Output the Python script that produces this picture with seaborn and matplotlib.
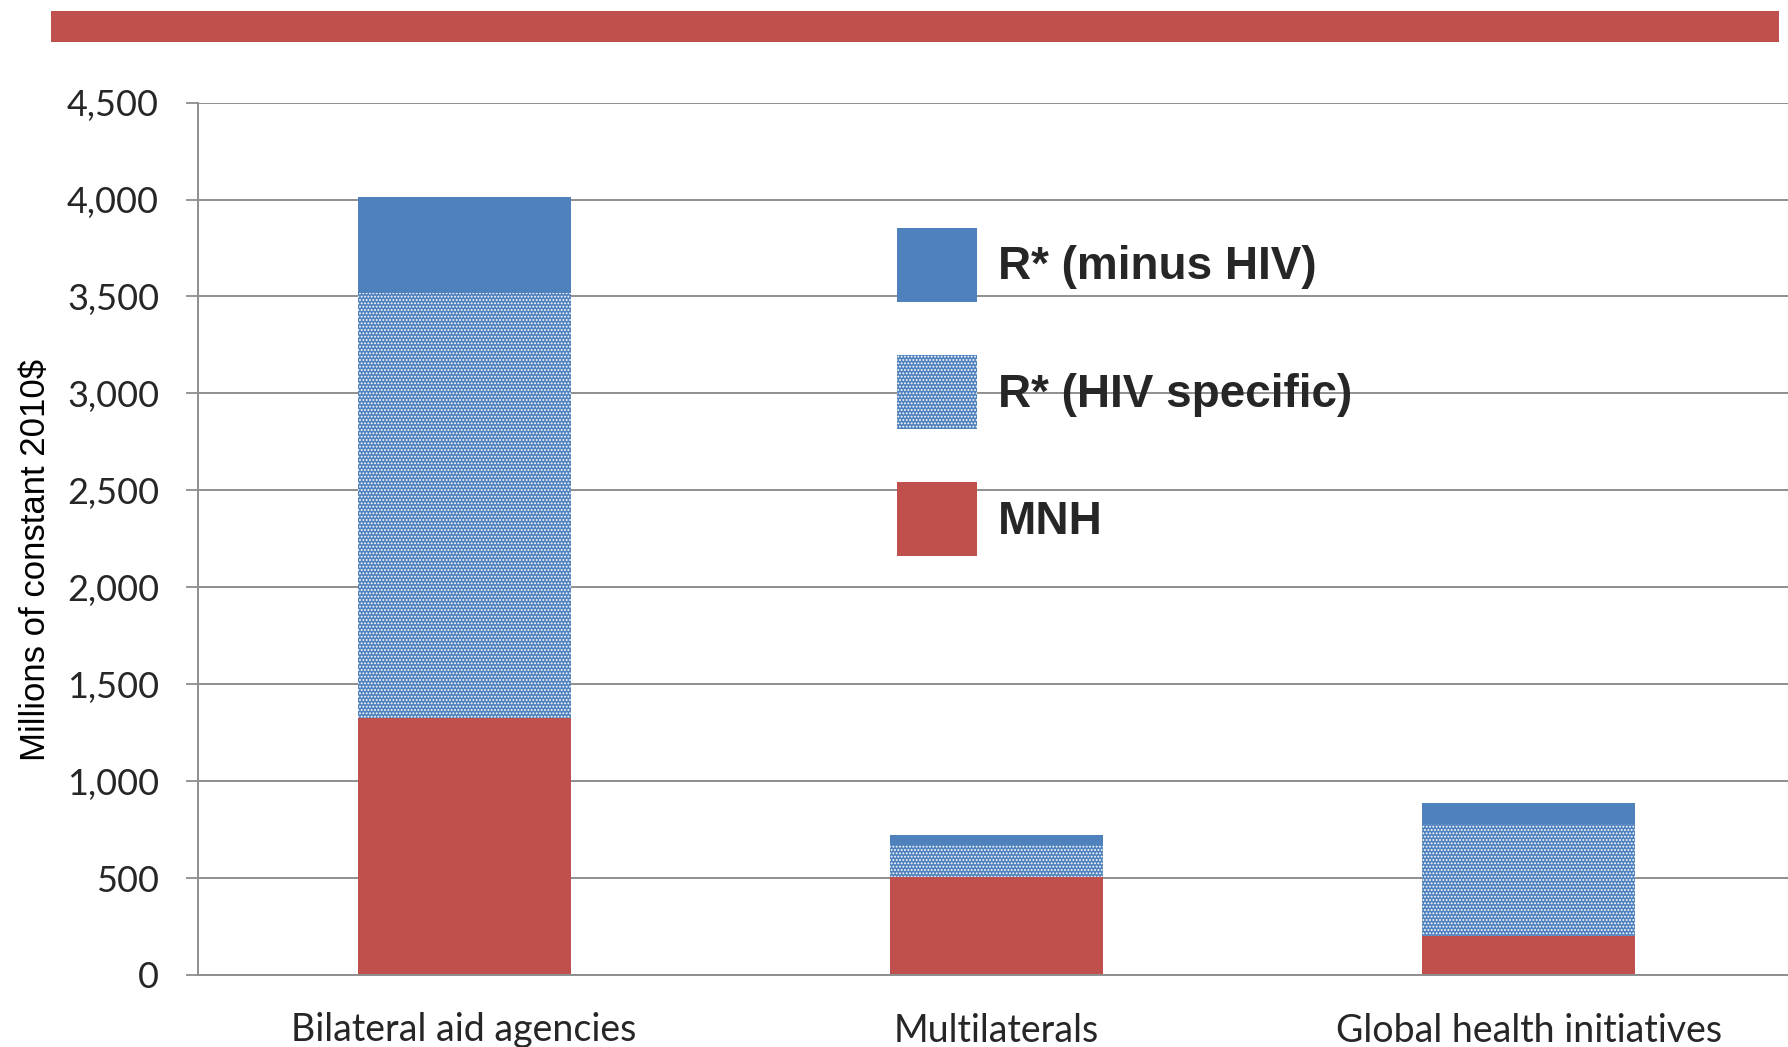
import numpy as np
import pandas as pd
import seaborn as sns
import matplotlib.pyplot as plt
from matplotlib.patches import Patch, Rectangle

# Step 1: data (millions of constant 2010$)
categories = ["Bilateral aid agencies", "Multilaterals", "Global health initiatives"]
mnh = [1325, 505, 202]
hiv_specific = [2195, 163, 575]
minus_hiv = [492, 56, 112]
series_labels = ["R* (minus HIV)", "R* (HIV specific)", "MNH"]
yticks = [0, 500, 1000, 1500, 2000, 2500, 3000, 3500, 4000, 4500]

blue = "#4F81BD"
red = "#C0504D"
grid_col = "#8E8E8E"

sns.set_theme(style="white")
plt.rcParams["hatch.linewidth"] = 0.9
tick_font = ["Lato", "DejaVu Sans"]
sans = ["Liberation Sans", "DejaVu Sans"]

# stacked bars drawn as cumulative totals, tallest first
df = pd.DataFrame({"cat": categories, "mnh": mnh, "hiv": hiv_specific, "rest": minus_hiv})
df["hiv_top"] = df["mnh"] + df["hiv"]
df["total"] = df["hiv_top"] + df["rest"]

W, H = 1788, 1047
fig = plt.figure(figsize=(W / 100, H / 100), dpi=100)
ax = fig.add_axes([198 / W, (H - 975) / H, 1597 / W, (975 - 102.6) / H])

sns.barplot(data=df, x="cat", y="total", color=blue, saturation=1, width=0.4,
            errorbar=None, linewidth=0, ax=ax)
sns.barplot(data=df, x="cat", y="hiv_top", color=blue, saturation=1, width=0.4,
            errorbar=None, linewidth=0, edgecolor="white", hatch=".....", ax=ax)
sns.barplot(data=df, x="cat", y="mnh", color=red, saturation=1, width=0.4,
            errorbar=None, linewidth=0, ax=ax)

# Step 2: axes styling
ax.set_xlim(-0.5, 2.5)
ax.set_ylim(0, 4500)
ax.set_yticks(yticks)
ax.set_yticklabels([f"{v:,}" for v in yticks], fontfamily=tick_font, fontsize=26)
ax.yaxis.grid(True, color=grid_col, linewidth=1.4)
ax.set_axisbelow(True)

ax.set_xticks([-0.5, 0.5, 1.5, 2.5])
ax.set_xticklabels([])
ax.set_xticks([0, 1, 2], minor=True)
ax.set_xticklabels(categories, minor=True, fontfamily=tick_font, fontsize=27)
ax.tick_params(axis="x", which="major", length=9, width=1.3, color=grid_col, direction="out")
ax.tick_params(axis="x", which="minor", length=0, pad=27)
ax.tick_params(axis="y", length=9, width=1.3, color=grid_col, direction="out", pad=19, left=True)

for s in ["top", "right"]:
    ax.spines[s].set_visible(False)
for s in ["left", "bottom"]:
    ax.spines[s].set_color(grid_col)
    ax.spines[s].set_linewidth(1.4)

ax.set_xlabel("")
ax.set_ylabel("Millions of constant 2010$", fontfamily=sans, fontsize=25, color="black")
ax.yaxis.set_label_coords((52 - 198) / 1597, (975 - 560) / (975 - 102.6))

# Step 3: legend inside the plot
handles = [
    Patch(facecolor=blue, linewidth=0),
    Patch(facecolor=blue, edgecolor="white", hatch=".....", linewidth=0),
    Patch(facecolor=red, linewidth=0),
]
ax.legend(handles, series_labels, loc="upper left", bbox_to_anchor=(897 / W, 1 - 228 / H),
          bbox_transform=fig.transFigure, frameon=False, borderpad=0, borderaxespad=0,
          handlelength=1.745, handleheight=2.108, handletextpad=0.45, labelspacing=1.16,
          prop={"family": sans, "weight": "bold", "size": 33})

# Step 4: red banner on top
fig.patches.append(Rectangle((51 / W, 1 - 42 / H), (1779 - 51) / W, 31 / H,
                             transform=fig.transFigure, facecolor=red, edgecolor="none"))

fig.savefig("out.png", dpi=100)
